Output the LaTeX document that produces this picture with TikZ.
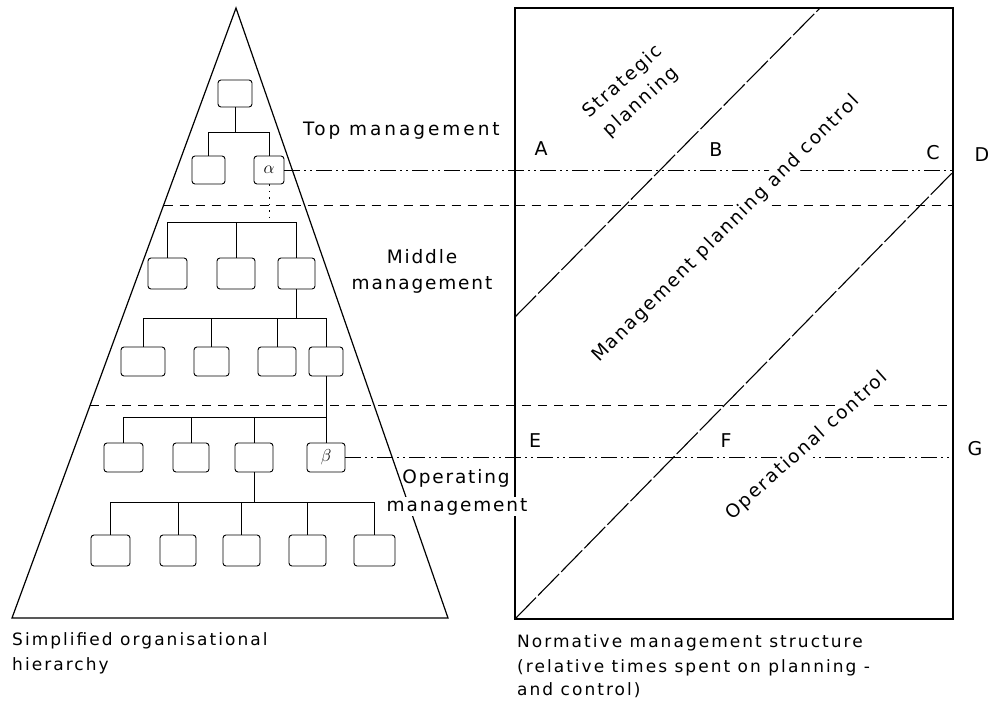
\documentclass[tikz,border=0pt]{standalone}
\usepackage{fontspec}
\setmainfont{DejaVu Sans}[LetterSpace=10]
\usetikzlibrary{calc}
\begin{document}
\begin{tikzpicture}[x=1pt,y=-1pt,
  lbl/.style={font=\fontsize{18.5}{22}\selectfont, inner sep=0pt},
  widelbl/.style={font={\fontsize{18.5}{22}\selectfont\addfontfeatures{LetterSpace=16}}, inner sep=0pt},
  captxt/.style={font={\fontsize{17}{20}\selectfont\addfontfeatures{LetterSpace=12}}, inner sep=0pt, anchor=base west},
  lettxt/.style={font=\fontsize{19}{22}\selectfont, inner sep=0pt},
  orgbox/.style={draw, rounded corners=3pt, line width=0.9pt, inner sep=0pt,
                 minimum height=29pt, minimum width=37pt, font=\fontsize{17}{20}\selectfont},
  conn/.style={line width=0.9pt},
  dotconn/.style={line width=1pt, dash pattern=on 1.5pt off 5pt},
  frameline/.style={line width=1.2pt},
  dashline/.style={line width=1pt, dash pattern=on 9pt off 7pt},
  dashdot/.style={line width=1pt, dash pattern=on 16pt off 4pt on 2pt off 4pt on 2pt off 4pt},
  diagline/.style={line width=1.1pt, dash pattern=on 30pt off 3pt}]
\useasboundingbox (0,0) rectangle (995,701);

% pyramid
\coordinate (apex) at (236,8);
\coordinate (pl) at (12,618);
\coordinate (pr) at (448,618);
\draw[frameline] (pl) -- (apex) -- (pr) -- cycle;

% right frame
\coordinate (BL) at (515,619);
\coordinate (TR) at (953,8);
\draw[frameline] (BL) rectangle (TR);

% org boxes
\node[orgbox, minimum width=34pt, minimum height=27pt] (top) at (235,93.5) {};
\node[orgbox, minimum width=33pt, minimum height=28pt] (l2a) at (208.5,170) {};
\node[orgbox, minimum width=30pt, minimum height=28pt] (alpha) at (269,170) {$\alpha$};
\node[orgbox, minimum width=39pt, minimum height=31pt] (m1) at (167.5,273.5) {};
\node[orgbox, minimum width=38pt, minimum height=31pt] (m2) at (236,273.5) {};
\node[orgbox, minimum width=37pt, minimum height=31pt] (m3) at (296.5,273.5) {};
\node[orgbox, minimum width=44pt] (n1) at (143,361.5) {};
\node[orgbox, minimum width=35pt] (n2) at (211.5,361.5) {};
\node[orgbox, minimum width=38pt] (n3) at (277,361.5) {};
\node[orgbox, minimum width=34pt] (n4) at (326,361.5) {};
\node[orgbox, minimum width=39pt] (o1) at (123.5,457.5) {};
\node[orgbox, minimum width=36pt] (o2) at (191,457.5) {};
\node[orgbox, minimum width=38pt] (o3) at (254,457.5) {};
\node[orgbox, minimum width=38pt] (beta) at (326,457.5) {$\beta$};
\node[orgbox, minimum width=39pt, minimum height=31pt] (p1) at (110.5,550.5) {};
\node[orgbox, minimum width=36pt, minimum height=31pt] (p2) at (178,550.5) {};
\node[orgbox, minimum width=37pt, minimum height=31pt] (p3) at (241.5,550.5) {};
\node[orgbox, minimum width=37pt, minimum height=31pt] (p4) at (307.5,550.5) {};
\node[orgbox, minimum width=41pt, minimum height=31pt] (p5) at (374.5,550.5) {};

% bar levels
\coordinate (bar1) at (0,132);
\coordinate (bar2) at (0,222);
\coordinate (bar3) at (0,318);
\coordinate (bar4) at (0,417);
\coordinate (bar5) at (0,502);

% connectors
\draw[conn] (top.south) -- (top.south |- bar1);
\draw[conn] (l2a.north) |- (alpha.north |- bar1) -- (alpha.north);
\draw[dotconn] (alpha.south) -- (alpha.south |- bar2);
\draw[conn] (m1.north) |- (m3.north |- bar2) -- (m3.north);
\draw[conn] (m2.north) -- (m2.north |- bar2);
\draw[conn] (m3.south) -- (m3.south |- bar3);
\draw[conn] (n1.north) |- (n4.north |- bar3) -- (n4.north);
\draw[conn] (n2.north) -- (n2.north |- bar3);
\draw[conn] (n3.north) -- (n3.north |- bar3);
\draw[conn] (n4.south) -- (n4.south |- bar4);
\draw[conn] (o1.north) |- (beta.north |- bar4) -- (beta.north);
\draw[conn] (o2.north) -- (o2.north |- bar4);
\draw[conn] (o3.north) -- (o3.north |- bar4);
\draw[conn] (o3.south) -- (o3.south |- bar5);
\draw[conn] (p1.north) |- (p5.north |- bar5) -- (p5.north);
\draw[conn] (p2.north) -- (p2.north |- bar5);
\draw[conn] (p3.north) -- (p3.north |- bar5);
\draw[conn] (p4.north) -- (p4.north |- bar5);

% horizontal level lines
\coordinate (d1) at ($(apex)!0.323!(pl)$);
\coordinate (d2) at ($(apex)!0.651!(pl)$);
\draw[dashline] (d1) -- (d1 -| TR);
\draw[dashline] (d2) -- (d2 -| TR);
\draw[dashdot] (alpha.east) -- (alpha.east -| TR);
\draw[dashdot] (beta.east) -- (beta.east -| TR);

% diagonals
\coordinate (u1) at (515,317);
\coordinate (u2) at (820,8);
\coordinate (w2) at (953,172);
\draw[diagline] (u1) -- (u2);
\draw[diagline] (BL) -- (w2);

% labels
\node[widelbl, anchor=base west] (topm) at (303,135) {Top management};
\node[lbl, anchor=base] (mid1) at (422,263) {Middle};
\node[lbl, anchor=base] (mid2) at (422,289) {management};
\node[lbl, anchor=base] (op1) at (456,483) {Operating};
\node[lbl, anchor=base, fill=white, inner sep=1pt] (op2) at (457,511) {management};

\node[lbl, rotate=42, align=center, font=\fontsize{18.5}{27}\selectfont] (strat) at (632,92) {Strategic\\planning};
\node[lbl, rotate=45, fill=white, inner sep=2pt] (mpc) at (726,229) {Management planning and control};
\node[lbl, rotate=42, fill=white, inner sep=2pt] (opc) at (807,446) {Operational control};

\node[lettxt] (A) at (541,149) {A};
\node[lettxt] (B) at (716,150) {B};
\node[lettxt] (C) at (933,153) {C};
\node[lettxt] (D) at (982,155) {D};
\node[lettxt] (E) at (535,441) {E};
\node[lettxt] (F) at (726,441) {F};
\node[lettxt] (G) at (975,449) {G};

% captions
\node[captxt] (c1) at (12,645) {Simplified organisational};
\node[captxt] (c2) at (12,670) {hierarchy};
\node[captxt] (c3) at (517,647) {Normative management structure};
\node[captxt] (c4) at (517,672) {(relative times spent on planning -};
\node[captxt] (c5) at (517,695) {and control)};
\end{tikzpicture}
\end{document}
